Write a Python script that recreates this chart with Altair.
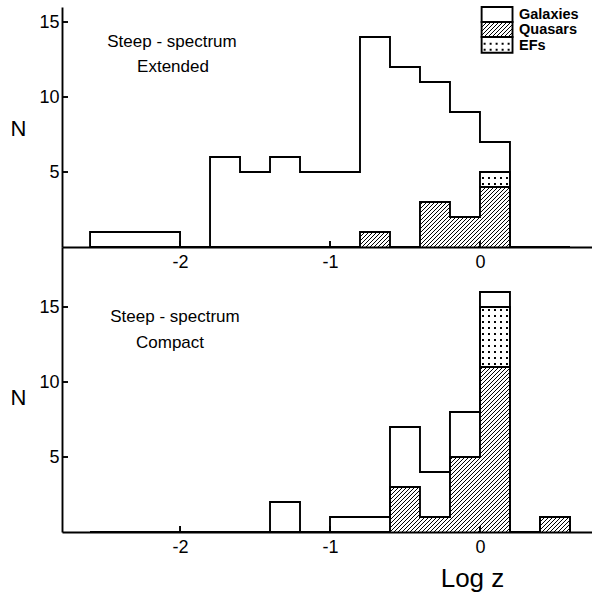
import altair as alt
import pandas as pd
import numpy as np

# ---------------- data ----------------
bin_left = [-2.6, -2.4, -2.2, -2.0, -1.8, -1.6, -1.4, -1.2, -1.0, -0.8,
            -0.6, -0.4, -0.2, 0.0, 0.2, 0.4]
BIN_W = 0.2
ext_galaxies = [1, 1, 1, 0, 6, 5, 6, 5, 5, 13, 12, 8, 7, 2, 0, 0]
ext_quasars = [0, 0, 0, 0, 0, 0, 0, 0, 0, 1, 0, 3, 2, 4, 0, 0]
ext_efs = [0, 0, 0, 0, 0, 0, 0, 0, 0, 0, 0, 0, 0, 1, 0, 0]
cmp_galaxies = [0, 0, 0, 0, 0, 0, 2, 0, 1, 1, 4, 3, 3, 1, 0, 0]
cmp_quasars = [0, 0, 0, 0, 0, 0, 0, 0, 0, 0, 3, 1, 5, 11, 0, 1]
cmp_efs = [0, 0, 0, 0, 0, 0, 0, 0, 0, 0, 0, 0, 0, 4, 0, 0]
x_tick_values = [-2, -1, 0]
y_tick_values = [5, 10, 15]
legend_labels = ["Galaxies", "Quasars", "EFs"]

# ---------------- layout ----------------
FONT = "Liberation Sans"
W = 530
X_DOM = [-2.787, 0.747]
TOP_H, TOP_YDOM = 240, [0, 16]
BOT_H, BOT_YDOM = 285, [0, 19]
LW = 1.9


def hatch(rects, ydom, height, step=4.0):
    sx = W / (X_DOM[1] - X_DOM[0])
    sy = height / (ydom[1] - ydom[0])
    rows = []
    for (x0, x1, y0, y1) in rects:
        X0, X1 = (x0 - X_DOM[0]) * sx, (x1 - X_DOM[0]) * sx
        Y0, Y1 = y0 * sy, y1 * sy
        kmin = int(np.floor((Y0 - X1) / step)) - 1
        kmax = int(np.ceil((Y1 - X0) / step)) + 1
        for k in range(kmin, kmax + 1):
            c = k * step
            lo, hi = max(X0, Y0 - c), min(X1, Y1 - c)
            if hi - lo > 0.4:
                rows.append(dict(sx=lo / sx + X_DOM[0], sy=(lo + c) / sy,
                                 hx2=hi / sx + X_DOM[0], hy2=(hi + c) / sy))
    return pd.DataFrame(rows, columns=["sx", "sy", "hx2", "hy2"])


def dots(rects, ydom, height, dx=6.0, dy=6.0):
    sx = W / (X_DOM[1] - X_DOM[0])
    sy = height / (ydom[1] - ydom[0])
    rows = []
    for (x0, x1, y0, y1) in rects:
        X0, X1 = (x0 - X_DOM[0]) * sx, (x1 - X_DOM[0]) * sx
        Y0, Y1 = y0 * sy, y1 * sy
        X = X0 + dx / 2
        while X < X1 - 1:
            Y = Y0 + dy / 2
            while Y < Y1 - 1:
                rows.append(dict(sx=X / sx + X_DOM[0], sy=Y / sy))
                Y += dy
            X += dx
    return pd.DataFrame(rows, columns=["sx", "sy"])


def outline(counts):
    xs, ys = [bin_left[0]], [0]
    for i, c in enumerate(counts):
        xs.append(bin_left[i])
        ys.append(c)
    xs.append(bin_left[-1] + BIN_W)
    ys.append(0)
    return pd.DataFrame({"sx": xs, "sy": ys, "ord": list(range(len(xs)))})


def panel(gal, qso, efs, ydom, height, line1, line2, text_pos, n_title_y,
          bottom=False, legend=False):
    xs = alt.Scale(domain=X_DOM, nice=False, zero=False)
    ys = alt.Scale(domain=ydom, nice=False, zero=False)
    total = [g + q + e for g, q, e in zip(gal, qso, efs)]

    x_axis = alt.Axis(values=x_tick_values, grid=False, ticks=False, tickSize=0,
                      labelExpr="datum.value < 0 ? '-' + (-datum.value) : '' + datum.value",
                      labelPadding=6, labelFontSize=18, labelFont=FONT, labelColor="black",
                      domainColor="black", domainWidth=LW,
                      title="Log z" if bottom else "",
                      titleFont=FONT, titleFontSize=26, titleFontWeight="normal",
                      titleColor="black", titleX=410, titleY=46,
                      titleBaseline="middle", titleAlign="center", labelFlush=False)
    y_axis = alt.Axis(values=y_tick_values, grid=False, ticks=False, tickSize=0,
                      labelPadding=3, labelFontSize=18, labelFont=FONT, labelColor="black",
                      domainColor="black", domainWidth=LW,
                      title="N", titleAngle=0, titleX=-44, titleY=n_title_y,
                      titleFont=FONT, titleFontSize=22, titleFontWeight="normal",
                      titleColor="black", titleBaseline="middle", titleAlign="center",
                      labelFlush=False)

    def X(f):
        return alt.X(f, scale=xs, axis=x_axis)

    def Y(f):
        return alt.Y(f, scale=ys, axis=y_axis)

    layers = []
    layers.append(
        alt.Chart(outline(total)).mark_line(interpolate="step-after", color="black",
                                            strokeWidth=LW, strokeJoin="miter")
        .encode(x=X("sx:Q"), y=Y("sy:Q"), order="ord:Q")
    )

    q_rects = [(bin_left[i], bin_left[i] + BIN_W, 0, q) for i, q in enumerate(qso) if q > 0]
    e_rects = [(bin_left[i], bin_left[i] + BIN_W, qso[i], qso[i] + e)
               for i, e in enumerate(efs) if e > 0]
    lx0, lx1 = 0.011, 0.217
    if legend:
        leg_q = [(lx0, lx1, 14.0, 15.0)]
        leg_e = [(lx0, lx1, 12.95, 14.0)]
    else:
        leg_q, leg_e = [], []

    layers.append(
        alt.Chart(hatch(q_rects + leg_q, ydom, height)).mark_rule(color="black", strokeWidth=1.0)
        .encode(x=X("sx:Q"), y=Y("sy:Q"), x2="hx2:Q", y2="hy2:Q")
    )
    layers.append(
        alt.Chart(dots(e_rects + leg_e, ydom, height)).mark_square(color="black", size=4, opacity=1)
        .encode(x=X("sx:Q"), y=Y("sy:Q"))
    )
    layers.append(
        alt.Chart(outline(qso)).mark_line(interpolate="step-after", color="black",
                                          strokeWidth=LW, strokeJoin="miter")
        .encode(x=X("sx:Q"), y=Y("sy:Q"), order="ord:Q")
    )
    rect_rows = [dict(sx=a, rx2=b, sy=c, ry2=d) for (a, b, c, d) in e_rects]
    if legend:
        rect_rows += [dict(sx=lx0, rx2=lx1, sy=15.0, ry2=16.0),
                      dict(sx=lx0, rx2=lx1, sy=14.0, ry2=15.0),
                      dict(sx=lx0, rx2=lx1, sy=12.95, ry2=14.0)]
    if rect_rows:
        layers.append(
            alt.Chart(pd.DataFrame(rect_rows)).mark_rect(fill=None, stroke="black", strokeWidth=LW)
            .encode(x=X("sx:Q"), x2="rx2:Q", y=Y("sy:Q"), y2="ry2:Q")
        )
    # inward ticks
    layers.append(
        alt.Chart(pd.DataFrame({"sx": x_tick_values})).mark_rule(color="black", strokeWidth=LW)
        .encode(x=X("sx:Q"), y=alt.value(height), y2=alt.value(height - 6))
    )
    layers.append(
        alt.Chart(pd.DataFrame({"sy": y_tick_values})).mark_rule(color="black", strokeWidth=LW)
        .encode(y=Y("sy:Q"), x=alt.value(0), x2=alt.value(6))
    )
    # annotation text
    (t1x, t1y), (t2x, t2y) = text_pos
    layers.append(alt.Chart(pd.DataFrame({"t": [line1]})).mark_text(
        font=FONT, fontSize=17, color="black", align="center", baseline="middle")
        .encode(text="t:N", x=alt.value(t1x), y=alt.value(t1y)))
    layers.append(alt.Chart(pd.DataFrame({"t": [line2]})).mark_text(
        font=FONT, fontSize=17, color="black", align="center", baseline="middle")
        .encode(text="t:N", x=alt.value(t2x), y=alt.value(t2y)))

    if legend:
        ldf = pd.DataFrame({"lab": legend_labels, "sy": [15.45, 14.45, 13.4]})
        layers.append(
            alt.Chart(ldf).mark_text(font=FONT, fontSize=14.5, fontWeight="bold", color="black",
                                     align="left", baseline="middle")
            .encode(text="lab:N", x=alt.value(457), y=Y("sy:Q"))
        )

    return alt.layer(*layers).properties(width=W, height=height)


top = panel(ext_galaxies, ext_quasars, ext_efs, TOP_YDOM, TOP_H,
            "Steep - spectrum", "Extended", [(110, 35), (111, 60)], 121, legend=True)
bot = panel(cmp_galaxies, cmp_quasars, cmp_efs, BOT_YDOM, BOT_H,
            "Steep - spectrum", "Compact", [(113, 70), (108, 96)], 150, bottom=True)

chart = (
    alt.vconcat(top, bot, spacing=0, bounds="flush")
    .properties(padding={"left": 10, "top": 6, "right": 0, "bottom": 5}, background="white")
    .configure_view(stroke=None)
)

chart.save("out.html", embed_options={"renderer": "svg", "actions": False})
